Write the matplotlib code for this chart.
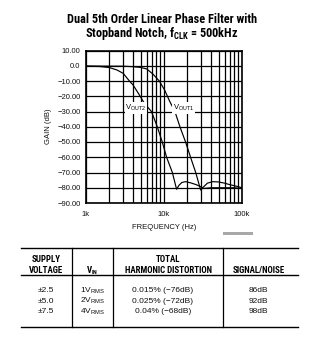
import matplotlib
matplotlib.use("Agg")
import matplotlib.pyplot as plt
from matplotlib import font_manager as fm
from matplotlib.font_manager import FontProperties
from matplotlib.lines import Line2D
from matplotlib.patches import Rectangle
from matplotlib.ticker import FixedLocator, NullFormatter

# ---------------- data ----------------
vout1_freq = [1000, 3000, 4000, 5000, 6000, 7200, 8700, 10200, 11900, 13800,
              16000, 18900, 21900, 25500, 29500, 32000, 36000, 42000, 50000,
              60000, 70000, 85000, 100000]
vout1_gain = [-0.2, -0.3, -0.6, -1.1, -2.1, -5.4, -10, -16, -23.6, -30,
              -40, -50, -60, -70, -81.5, -79.5, -77, -76, -76.2,
              -77, -78, -79, -80]

vout2_freq = [1000, 1500, 2000, 2500, 3000, 3670, 4000, 4680, 5600, 6900,
              8200, 9500, 10800, 12800, 14500, 15500, 17000, 19000, 22000,
              26000, 30000, 32000, 40000, 60000, 80000, 100000]
vout2_gain = [-0.3, -0.5, -1.2, -2.8, -5, -10.5, -12.5, -18, -24.6, -30,
              -40, -50, -60, -70, -81, -78.5, -76.5, -76, -76.8,
              -78, -79.5, -80.5, -80, -80, -80, -80.5]

y_ticks = [10, 0, -10, -20, -30, -40, -50, -60, -70, -80, -90]
y_tick_labels = ["10.00", "0.0", "\u221210.00", "\u221220.00", "\u221230.00",
                 "\u221240.00", "\u221250.00", "\u221260.00", "\u221270.00",
                 "\u221280.00", "\u221290.00"]
x_ticks = [1000, 10000, 100000]
x_tick_labels = ["1k", "10k", "100k"]

title_lines = ["Dual 5th Order Linear Phase Filter with",
               r"Stopband Notch, f$_{\mathregular{CLK}}$ = 500kHz"]
table_headers = [["SUPPLY", "VOLTAGE"], ["", r"V$_{\mathregular{IN}}$"],
                 ["TOTAL", "HARMONIC DISTORTION"], ["", "SIGNAL/NOISE"]]
supply = ["\u00b12.5", "\u00b15.0", "\u00b17.5"]
vin = [r"1V$_{\mathregular{RMS}}$", r"2V$_{\mathregular{RMS}}$", r"4V$_{\mathregular{RMS}}$"]
thd = ["0.015% (\u221276dB)", "0.025% (\u221272dB)", "0.04% (\u221268dB)"]
snr = ["86dB", "92dB", "98dB"]

# ---------------- fonts ----------------
def _w(f):
    w = f.weight
    if isinstance(w, int):
        return w
    return fm.weight_dict.get(w, 400)


def find_condensed_bold():
    best, best_score = None, None
    prefs = ["roboto", "liberation", "open sans", "noto sans", "dejavu", "lato", "inter"]
    for f in fm.fontManager.ttflist:
        n = (f.name + " " + f.fname).lower()
        if not ("condensed" in n or "narrow" in n):
            continue
        if f.style != "normal" or "italic" in n or "oblique" in n:
            continue
        if _w(f) < 600:
            continue
        score = abs(_w(f) - 700)
        if "semicondensed" in n.replace(" ", "").replace("-", ""):
            score += 50
        if "extra" in n or "ultra" in n:
            score += 80
        for i, p in enumerate(prefs):
            if p in n:
                score += i
                break
        else:
            score += 20
        if best_score is None or score < best_score:
            best, best_score = f, score
    if best is not None:
        return lambda size: FontProperties(fname=best.fname, size=size)
    return lambda size: FontProperties(family=["Liberation Sans", "DejaVu Sans"],
                                       weight="bold", size=size)


COND_BOLD = find_condensed_bold()
REG = ["Liberation Sans", "DejaVu Sans"]
plt.rcParams["font.family"] = REG
plt.rcParams["mathtext.fontset"] = "custom"
plt.rcParams["mathtext.rm"] = "Liberation Sans"

W, H = 310, 345
fig = plt.figure(figsize=(W / 100, H / 100), dpi=100)
fig.patch.set_facecolor("white")
renderer = fig.canvas.get_renderer()


def fx(px):
    return px / W


def fy(py):
    return 1 - py / H


def fitted_size(s, width_px, start=9.0):
    t = fig.text(0, 0, s, fontproperties=COND_BOLD(start))
    w = t.get_window_extent(renderer).width
    t.remove()
    return start * width_px / w


# axes: left 86, right 242, top 50.5, bottom 203
ax = fig.add_axes([fx(86), fy(203), fx(242) - fx(86), fy(50.5) - fy(203)])
ax.set_xscale("log")
ax.set_xlim(1000, 100000)
ax.set_ylim(-90, 10)

ax.plot(vout1_freq, vout1_gain, color="black", lw=0.85, zorder=3)
ax.plot(vout2_freq, vout2_gain, color="black", lw=0.85, zorder=3)

ax.yaxis.set_major_locator(FixedLocator(y_ticks))
ax.set_yticklabels(y_tick_labels)
ax.xaxis.set_major_locator(FixedLocator(x_ticks))
ax.set_xticklabels(x_tick_labels)
ax.xaxis.set_minor_formatter(NullFormatter())
ax.grid(True, which="major", axis="both", color="black", lw=0.9)
ax.grid(True, which="minor", axis="x", color="black", lw=0.9)
ax.set_axisbelow(True)
ax.tick_params(axis="both", which="both", length=0, labelsize=5.5, colors="#111111")
ax.tick_params(axis="y", pad=4.0)
ax.tick_params(axis="x", pad=6.0)
for s in ax.spines.values():
    s.set_linewidth(1.2)
    s.set_color("black")

ax.set_ylabel("GAIN (dB)", fontsize=5.5, labelpad=4, color="#111111")
ax.set_xlabel("FREQUENCY (Hz)", fontsize=5.5, labelpad=4, color="#111111")

bbox = dict(facecolor="white", edgecolor="none", pad=0.6)
ax.text(4380, -27.7, r"V$_{\mathregular{OUT2}}$", fontsize=5.5, ha="center",
        va="center", bbox=bbox, zorder=4)
ax.text(17800, -27.7, r"V$_{\mathregular{OUT1}}$", fontsize=5.5, ha="center",
        va="center", bbox=bbox, zorder=4)

# title (fit line 1 to ~190 px wide)
tsize = min(fitted_size(title_lines[0], 190), 10.0)
fig.text(fx(161.7), fy(19.5), title_lines[0], fontproperties=COND_BOLD(tsize),
         ha="center", va="center")
fig.text(fx(161.7), fy(34), title_lines[1], fontproperties=COND_BOLD(tsize),
         ha="center", va="center")

# gray bar
fig.add_artist(Rectangle((fx(223), fy(235)), fx(253) - fx(223), fy(232) - fy(235),
                         transform=fig.transFigure, facecolor="#a8a8a8",
                         edgecolor="none"))


# table
def hline(y, x0=20.7, x1=298.3, lw=1.0):
    fig.add_artist(Line2D([fx(x0), fx(x1)], [fy(y), fy(y)], color="black",
                          lw=lw, transform=fig.transFigure))


def vline(x, y0=248.3, y1=327.3):
    fig.add_artist(Line2D([fx(x), fx(x)], [fy(y0), fy(y1)], color="black",
                          lw=0.9, transform=fig.transFigure))


hline(248.3)
hline(275)
hline(327.3)
for xv in [71.7, 113.3, 222.7]:
    vline(xv)

hsize = min(fitted_size("HARMONIC DISTORTION", 88), 7.0)
hdr_x = [46.2, 92.5, 168, 259]
for xc, (l1, l2) in zip(hdr_x, table_headers):
    if l1:
        fig.text(fx(xc), fy(259), l1, fontproperties=COND_BOLD(hsize),
                 ha="center", va="center")
    fig.text(fx(xc), fy(270.5), l2, fontproperties=COND_BOLD(hsize),
             ha="center", va="center")

row_y = [290.7, 301.2, 311.7]
col_x = [45.5, 92.5, 163, 258]
for i, y in enumerate(row_y):
    for xc, col in zip(col_x, [supply, vin, thd, snr]):
        fig.text(fx(xc), fy(y), col[i], family=REG, fontsize=6,
                 ha="center", va="center", color="#111111")

fig.savefig("out.png", dpi=100)
